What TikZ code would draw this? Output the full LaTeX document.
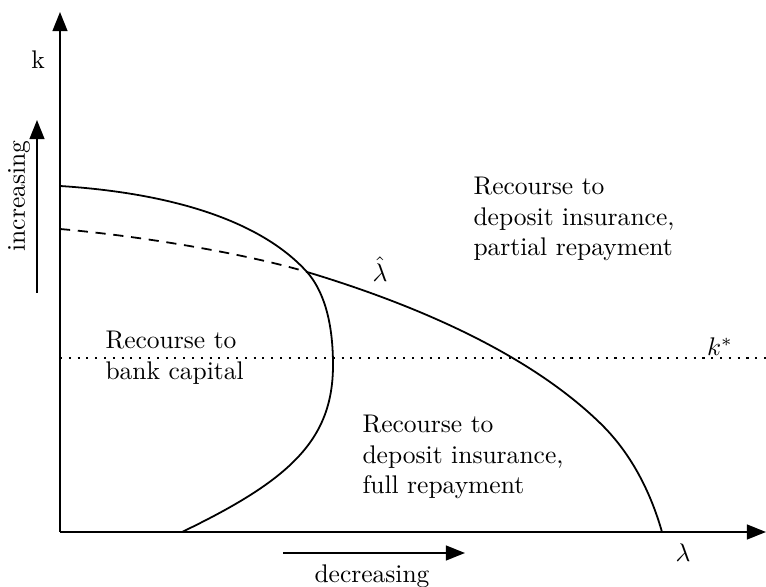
\documentclass[tikz,border=0pt]{standalone}
\usetikzlibrary{arrows.meta}
\begin{document}
\begin{tikzpicture}[x=0.392pt,y=-0.392pt,
  axis/.style={line width=0.8pt,-{Triangle[length=7.5pt,width=5.8pt]}},
  curve/.style={line width=0.7pt},
  dashcurve/.style={line width=0.7pt,dash pattern=on 4pt off 3pt},
  dotline/.style={line width=0.8pt,dash pattern=on 0.8pt off 2.65pt},
  lbl/.style={inner sep=0pt,align=left,font=\normalsize}]
\useasboundingbox (0,0) rectangle (766,587);
% axes
\coordinate (origin) at (60,532);
\coordinate (xend) at (766,532);
\coordinate (yend) at (60,12);
\draw[axis] (origin) -- (xend);
\draw[axis] (origin) -- (yend);
\node[lbl] (klab) at (38,60) {k};
\node[lbl] (lamlab) at (683,553) {$\lambda$};
% direction arrows
\coordinate (incA) at (37,293);
\coordinate (incB) at (37,120);
\draw[axis] (incA) -- (incB);
\node[lbl,rotate=90] (inc) at (19,196) {increasing};
\coordinate (decA) at (283,553);
\coordinate (decB) at (465,553);
\draw[axis] (decA) -- (decB);
\node[lbl] (dec) at (372,576) {decreasing};
% k* dotted line
\coordinate (ks1) at (60,358);
\coordinate (ks2) at (766,358);
\draw[dotline] (ks1) -- (ks2);
\node[lbl] (kstar) at (720,347) {$k^*$};
% curves
\coordinate (X) at (307,272);
\coordinate (A0) at (60,186);
\coordinate (Amax) at (333,365);
\coordinate (Aend) at (182,532);
\draw[curve] (A0) .. controls (170,193) and (260,220) .. (X)
  .. controls (322,289) and (333,318) .. (Amax)
  .. controls (333,440) and (290,480) .. (Aend);
\coordinate (B0) at (60,229);
\coordinate (Bmid) at (600,423);
\coordinate (Bend) at (662,532);
\draw[dashcurve] (B0) .. controls (150,237) and (250,255) .. (X);
\draw[curve] (X) .. controls (420,306) and (530,355) .. (Bmid)
  .. controls (630,452) and (650,490) .. (Bend);
\node[lbl] (lamhat) at (380,269) {$\hat{\lambda}$};
% region labels
\node[lbl,anchor=west] (r1) at (473,219) {Recourse to\\deposit insurance,\\partial repayment};
\node[lbl,anchor=west] (r2) at (105,358) {Recourse to\\bank capital};
\node[lbl,anchor=west] (r3) at (362,457) {Recourse to\\deposit insurance,\\full repayment};
\end{tikzpicture}
\end{document}
